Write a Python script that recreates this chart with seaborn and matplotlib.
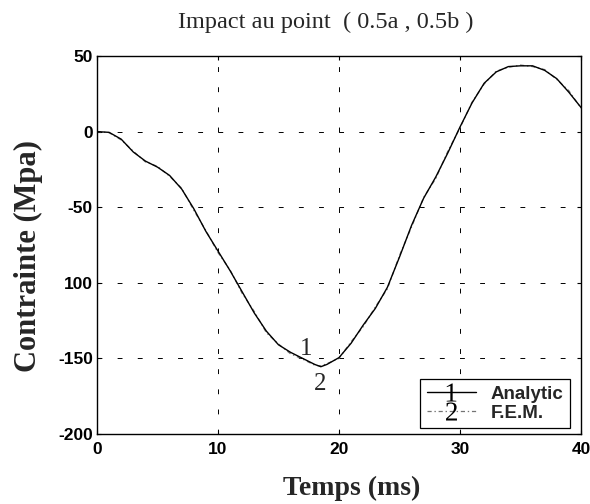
import matplotlib
matplotlib.use("Agg")
import matplotlib.pyplot as plt
import seaborn as sns
import pandas as pd
from matplotlib.lines import Line2D

# ---- data ----
t_ms = [0, 1, 2, 3, 4, 5, 6, 7, 8, 9, 10, 11, 12, 13, 14, 15, 16, 17, 18, 18.5,
        19, 20, 21, 22, 23, 24, 25, 26, 27, 28, 29, 30, 31, 32, 33, 34, 35, 36,
        37, 38, 39, 40]
analytic = [0, -0.5, -5, -13.5, -19.5, -23.5, -29, -38, -51, -66, -79, -92, -106,
            -120, -132, -141, -146, -150, -154, -155.5, -154, -149.5, -140, -128,
            -117, -103, -83, -62, -44, -30, -14, 3, 19, 32, 39.5, 43, 43.5, 43.5,
            40.5, 35, 26, 16]
fem = [0, -0.7, -5.5, -13, -20, -23, -29.5, -37.5, -52, -65.5, -80, -91.5, -107,
       -119, -133, -140.5, -147, -150.5, -154.5, -155, -153.5, -150, -139, -129,
       -116, -104, -82, -63, -43.5, -31, -13, 2.5, 19.5, 31.5, 40, 42.5, 44, 43,
       41, 34.5, 27, 15.5]
xticks = [0, 10, 20, 30, 40]
yticks = [-200, -150, -100, -50, 0, 50]
ytick_labels = ["-200", "-150", "100", "-50", "0", "50"]
title = "Impact au point  ( 0.5a , 0.5b )"
xlabel = "Temps (ms)"
ylabel = "Contrainte (Mpa)"
legend_labels = ["Analytic", "F.E.M."]

df = pd.DataFrame({"t": t_ms + t_ms,
                   "v": analytic + fem,
                   "s": ["Analytic"] * len(t_ms) + ["F.E.M."] * len(t_ms)})

sns.set_style("ticks")
plt.rcParams["mathtext.fontset"] = "custom"
plt.rcParams["mathtext.rm"] = "Liberation Serif"
plt.rcParams["lines.scale_dashes"] = False

fig = plt.figure(figsize=(5.9, 5.04), dpi=100)
ax = fig.add_axes([0.1644, 0.1389, 0.8203, 0.7500])

sns.lineplot(data=df[df.s == "F.E.M."], x="t", y="v", ax=ax, color="0.45",
             linewidth=0.9, linestyle=(0, (3, 2, 1, 2)), legend=False, zorder=2)
sns.lineplot(data=df[df.s == "Analytic"], x="t", y="v", ax=ax, color="black",
             linewidth=1.0, legend=False, zorder=3)

ax.set_xlim(0, 40)
ax.set_ylim(-200, 50)
ax.set_xticks(xticks)
ax.set_xticklabels([str(x) for x in xticks])
ax.set_yticks(yticks)
ax.set_yticklabels(ytick_labels)
for lab in ax.get_xticklabels() + ax.get_yticklabels():
    lab.set_fontfamily("Liberation Sans")
    lab.set_fontweight("bold")
    lab.set_fontsize(12.5)
ax.tick_params(direction="in", length=3, width=0.8, top=True, right=True,
               colors="black")
ax.tick_params(axis="x", pad=6)
ax.tick_params(axis="y", pad=3)

ax.grid(True, color="black", linestyle=(0, (3.5, 11)), linewidth=0.7)
for sp in ax.spines.values():
    sp.set_color("black")
    sp.set_linewidth(1.0)
    sp.set_visible(True)

fig.text(326 / 590, 1 - 22 / 504, title, fontfamily="Liberation Serif",
         fontsize=17.5, ha="center", va="center")
ax.set_xlabel(xlabel, fontfamily="Liberation Serif", fontweight="bold",
              fontsize=20)
ax.xaxis.set_label_coords(0.527, -0.112)
ax.set_ylabel(ylabel, fontfamily="Liberation Serif", fontweight="bold",
              fontsize=22)
ax.yaxis.set_label_coords(-0.112, 0.47)

# curve labels
ax.text(17.3, -143.7, "1", fontfamily="Liberation Serif", fontsize=18,
        ha="center", va="center")
ax.text(18.4, -166.9, "2", fontfamily="Liberation Serif", fontsize=18,
        ha="center", va="center")

handles = [
    Line2D([], [], color="black", linewidth=1.0, marker=r"$\mathrm{1}$",
           markersize=13, markeredgewidth=0, markerfacecolor="black"),
    Line2D([], [], color="0.45", linewidth=0.9, linestyle=(0, (3, 2, 1, 2)),
           marker=r"$\mathrm{2}$", markersize=13, markeredgewidth=0,
           markerfacecolor="black"),
]
leg = ax.legend(handles, legend_labels, loc="lower right",
                bbox_to_anchor=(0.985, 0.005), numpoints=1, handlelength=2.6,
                handletextpad=0.8, borderpad=0.35, labelspacing=0.1,
                borderaxespad=0.2,
                fancybox=False, framealpha=1, edgecolor="black",
                prop={"family": "Liberation Sans", "weight": "bold",
                      "size": 13.5})
leg.get_frame().set_linewidth(0.9)

fig.savefig("out.png", dpi=100)
